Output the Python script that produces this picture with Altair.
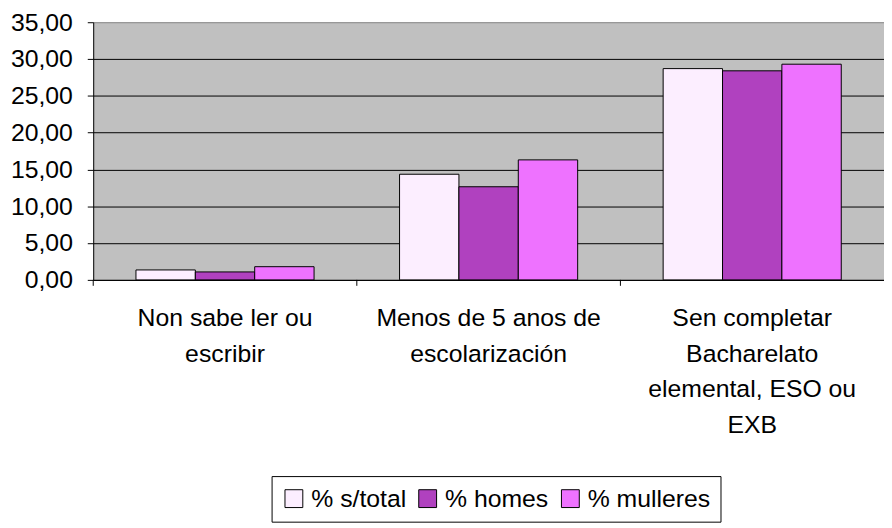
import altair as alt
import pandas as pd

categories = [
    "Non sabe ler ou\nescribir",
    "Menos de 5 anos de\nescolarización",
    "Sen completar\nBacharelato\nelemental, ESO ou\nEXB",
]
series = ["% s/total", "% homes", "% mulleres"]
total = [1.35, 14.35, 28.70]
homes = [1.08, 12.65, 28.40]
mulleres = [1.79, 16.30, 29.30]
colors = ["#FCEEFF", "#B041BF", "#EE72FF"]
y_ticks = [0, 5, 10, 15, 20, 25, 30, 35]

rows = []
for i, c in enumerate(categories):
    for s, vals in zip(series, [total, homes, mulleres]):
        rows.append({"cat": c, "serie": s, "value": vals[i]})
df = pd.DataFrame(rows)
cat_df = pd.DataFrame({"cat": categories})

FONT = "Liberation Sans"

x_scale = alt.Scale(domain=categories, paddingInner=0, paddingOuter=0)
x_axis = alt.Axis(
    labelExpr="split(datum.label, '\\n')",
    labelAngle=0,
    labelFontSize=25,
    labelLineHeight=36,
    labelBaseline="top",
    labelPadding=26,
    labelColor="black",
    labelFont=FONT,
    labelLimit=400,
    ticks=False,
    tickSize=0,
    domainColor="black",
    domainWidth=1,
    grid=False,
)

bars = alt.Chart(df).mark_bar(stroke="black", strokeWidth=1).encode(
    x=alt.X("cat:N", sort=categories, scale=x_scale, title=None, axis=x_axis),
    xOffset=alt.XOffset(
        "serie:N",
        sort=series,
        scale=alt.Scale(domain=series, paddingInner=0, paddingOuter=0.72),
    ),
    y=alt.Y(
        "value:Q",
        scale=alt.Scale(domain=[0, 35], nice=False, zero=True),
        title=None,
        axis=alt.Axis(
            values=y_ticks,
            labelExpr="replace(format(datum.value, '.2f'), '.', ',')",
            labelFontSize=25,
            labelFont=FONT,
            labelColor="black",
            labelPadding=15,
            tickSize=6,
            tickColor="black",
            domainColor="black",
            grid=True,
            gridColor=alt.condition("datum.value == 35", alt.value("#888888"), alt.value("black")),
            gridWidth=1,
        ),
    ),
    color=alt.Color(
        "serie:N",
        sort=series,
        scale=alt.Scale(domain=series, range=colors),
        legend=alt.Legend(
            title=None,
            orient="none",
            legendX=180,
            legendY=458,
            direction="horizontal",
            symbolType="square",
            symbolSize=324,
            symbolStrokeColor="black",
            symbolStrokeWidth=1,
            symbolOpacity=1,
            labelFontSize=25,
            labelFont=FONT,
            labelColor="black",
            labelOffset=5,
            columnPadding=9,
            padding=10,
            strokeColor="black",
            fillColor="white",
        ),
    ),
)

ticks = alt.Chart(cat_df).mark_rule(color="black", strokeWidth=1).encode(
    x=alt.X("cat:N", sort=categories, scale=x_scale, bandPosition=0, title=None, axis=x_axis),
    y=alt.value(260),
    y2=alt.value(266),
)

chart = (
    alt.layer(bars, ticks)
    .properties(
        width=798,
        height=260,
        autosize="none",
        padding={"left": 86, "top": 12, "right": 0, "bottom": 245},
    )
    .configure(font=FONT)
    .configure_view(fill="#C0C0C0", stroke=None)
)

chart.save("out.html", embed_options={"renderer": "svg", "actions": False})
